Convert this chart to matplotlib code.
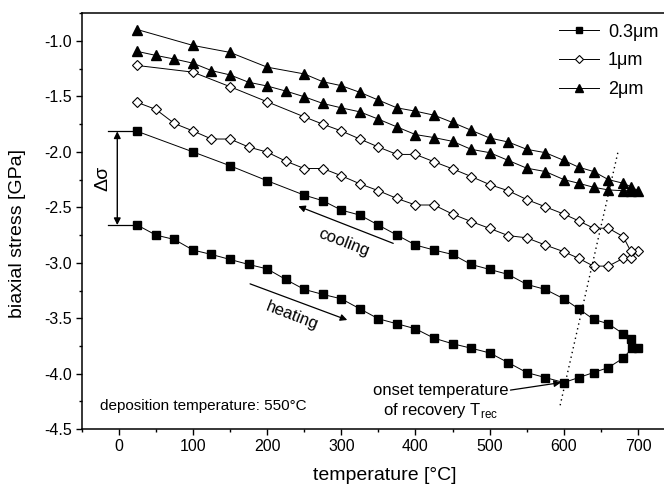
import matplotlib
matplotlib.use("Agg")
import matplotlib.pyplot as plt

# datos (calentamiento y luego enfriamiento)
temp_03 = [25, 50, 75, 100, 125, 150, 175, 200, 225, 250, 275, 300, 325, 350, 375, 400, 425, 450, 475, 500,
           525, 550, 575, 600, 620, 640, 660, 680, 692, 700,
           690, 680, 660, 640, 620, 600, 575, 550, 525, 500, 475, 450, 425, 400, 375, 350, 325, 300, 275, 250,
           200, 150, 100, 25]
stress_03 = [-2.66, -2.75, -2.79, -2.885, -2.925, -2.97, -3.015, -3.055, -3.15, -3.24, -3.285, -3.325, -3.415,
             -3.505, -3.55, -3.595, -3.68, -3.73, -3.77, -3.813, -3.90, -3.99, -4.035, -4.08, -4.035, -3.99,
             -3.945, -3.86, -3.77, -3.77,
             -3.685, -3.64, -3.55, -3.51, -3.415, -3.325, -3.24, -3.195, -3.105, -3.06, -3.015, -2.925, -2.885,
             -2.84, -2.75, -2.66, -2.57, -2.525, -2.44, -2.39, -2.26, -2.125, -2.0, -1.815]

temp_1 = [25, 50, 75, 100, 125, 150, 175, 200, 225, 250, 275, 300, 325, 350, 375, 400, 425, 450, 475, 500,
          525, 550, 575, 600, 620, 640, 660, 680, 690, 700,
          690, 680, 660, 640, 620, 600, 575, 550, 525, 500, 475, 450, 425, 400, 375, 350, 325, 300, 275, 250,
          200, 150, 100, 25]
stress_1 = [-1.554, -1.617, -1.744, -1.811, -1.884, -1.884, -1.956, -2.002, -2.083, -2.15, -2.15, -2.215, -2.288,
            -2.35, -2.42, -2.479, -2.479, -2.561, -2.628, -2.69, -2.755, -2.775, -2.84, -2.90, -2.96, -3.03,
            -3.03, -2.96, -2.96, -2.89,
            -2.894, -2.764, -2.688, -2.688, -2.622, -2.561, -2.495, -2.43, -2.35, -2.295, -2.222, -2.153,
            -2.089, -2.023, -2.023, -1.956, -1.884, -1.811, -1.75, -1.684, -1.548, -1.412, -1.281, -1.221]

temp_2 = list(temp_1)
stress_2 = [-1.094, -1.13, -1.163, -1.2, -1.267, -1.306, -1.372, -1.406, -1.451, -1.503, -1.563, -1.603, -1.639,
            -1.705, -1.775, -1.844, -1.871, -1.905, -1.977, -2.007, -2.077, -2.147, -2.177, -2.25, -2.283,
            -2.319, -2.343, -2.35, -2.35, -2.35,
            -2.313, -2.283, -2.25, -2.177, -2.138, -2.077, -2.007, -1.977, -1.911, -1.875, -1.805, -1.735,
            -1.669, -1.633, -1.603, -1.533, -1.463, -1.403, -1.367, -1.297, -1.236, -1.103, -1.04, -0.897]

etiquetas = ["0.3μm", "1μm", "2μm"]
x_ticks = [0, 100, 200, 300, 400, 500, 600, 700]
y_ticks = [-4.5, -4.0, -3.5, -3.0, -2.5, -2.0, -1.5, -1.0]

# recuperacion: linea punteada e intervalo delta sigma
recov_x = [595, 673]
recov_y = [-4.285, -2.0]
delta_top, delta_bottom = -1.815, -2.66

plt.rcParams['font.family'] = ['Liberation Sans', 'DejaVu Sans']
plt.rcParams['mathtext.fontset'] = 'custom'
plt.rcParams['mathtext.rm'] = 'Liberation Sans'
plt.rcParams['axes.unicode_minus'] = False

fig = plt.figure(figsize=(6.64, 4.91), dpi=100)
ax = fig.add_axes([0.123, 0.126, 0.877, 0.847])

ax.plot(temp_03, stress_03, color='black', lw=0.7, marker='s', ms=5.5, mfc='black', mec='black',
        label=etiquetas[0])
ax.plot(temp_1, stress_1, color='black', lw=0.7, marker='D', ms=5.5, mfc='white', mec='black', mew=0.8,
        label=etiquetas[1])
ax.plot(temp_2, stress_2, color='black', lw=0.7, marker='^', ms=7, mfc='black', mec='black',
        label=etiquetas[2])

# linea de la temperatura de recuperacion
ax.plot(recov_x, recov_y, color='black', lw=1.0, ls=(0, (1, 2.5)))

# flecha delta sigma
ax.plot([-14, 25], [delta_top, delta_top], color='black', lw=0.9)
ax.plot([-14, 25], [delta_bottom, delta_bottom], color='black', lw=0.9)
ax.annotate('', xy=(-2, delta_top), xytext=(-2, delta_bottom),
            arrowprops=dict(arrowstyle='<|-|>', color='black', lw=1.0, mutation_scale=10, shrinkA=0, shrinkB=0))
ax.text(-21, (delta_top + delta_bottom) / 2, 'Δσ', rotation=90, fontsize=14, ha='center', va='center')

# enfriamiento / calentamiento
ax.annotate('', xy=(242, -2.49), xytext=(370, -2.825),
            arrowprops=dict(arrowstyle='-|>', color='black', lw=0.9, mutation_scale=10, shrinkA=0, shrinkB=0))
ax.text(303, -2.816, 'cooling', rotation=-21, fontsize=12, ha='center', va='center')
ax.annotate('', xy=(308, -3.516), xytext=(177, -3.19),
            arrowprops=dict(arrowstyle='-|>', color='black', lw=0.9, mutation_scale=10, shrinkA=0, shrinkB=0))
ax.text(234, -3.477, 'heating', rotation=-21, fontsize=12, ha='center', va='center')

# texto de la temperatura de inicio de recuperacion
ax.annotate('', xy=(596, -4.08), xytext=(528, -4.148),
            arrowprops=dict(arrowstyle='-|>', color='black', lw=0.9, mutation_scale=10, shrinkA=0, shrinkB=0))
ax.text(434, -4.25, 'onset temperature\nof recovery T$_{\\mathrm{rec}}$', fontsize=12, ha='center',
        va='center', linespacing=1.25, multialignment='center')

ax.text(-25, -4.29, 'deposition temperature: 550°C', fontsize=11, ha='left', va='center')

ax.set_xlim(-50, 735)
ax.set_ylim(-4.5, -0.75)
ax.set_xticks(x_ticks)
ax.set_yticks(y_ticks)
ax.set_xticklabels([str(t) for t in x_ticks])
ax.set_yticklabels(['%.1f' % t for t in y_ticks])
ax.set_xticks([-50, 50, 150, 250, 350, 450, 550, 650], minor=True)
ax.set_yticks([-4.25, -3.75, -3.25, -2.75, -2.25, -1.75, -1.25, -0.75], minor=True)
ax.tick_params(which='major', direction='out', length=4, width=1.0, labelsize=11.5, pad=3)
ax.tick_params(which='minor', direction='out', length=2.5, width=1.0)

ax.spines['right'].set_visible(False)
for lado in ['left', 'bottom', 'top']:
    ax.spines[lado].set_linewidth(1.1)

ax.set_xlabel('temperature [°C]', fontsize=14)
ax.set_ylabel('biaxial stress [GPa]', fontsize=14)
ax.xaxis.set_label_coords(0.52, -0.09)
ax.yaxis.set_label_coords(-0.095, 0.47)

ax.legend(loc='upper left', bbox_to_anchor=(0.82, 0.975), frameon=False, fontsize=13, handlelength=2.2,
          handletextpad=0.5, labelspacing=0.65, borderpad=0, borderaxespad=0, markerscale=0.8)

plt.savefig('out.png', dpi=100)
plt.close()
